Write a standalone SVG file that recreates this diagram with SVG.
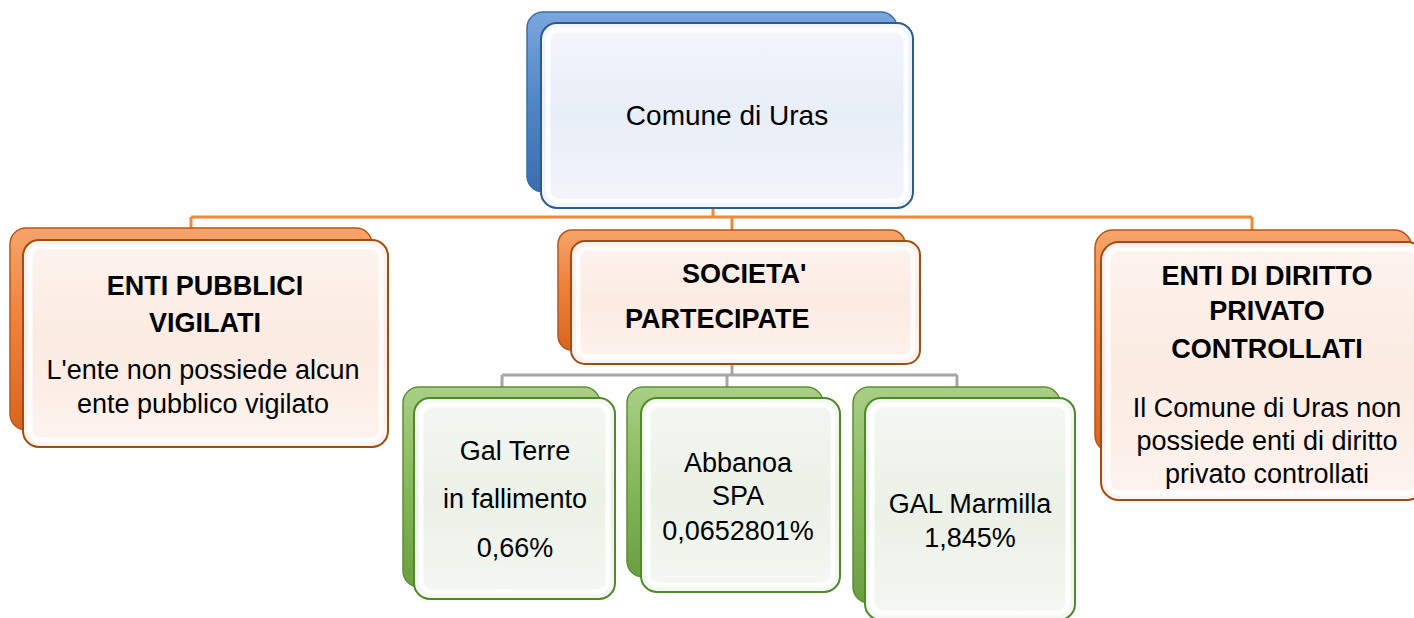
<svg xmlns="http://www.w3.org/2000/svg" width="1414" height="618" viewBox="0 0 1414 618">
<defs>
<linearGradient id="gBlue" x1="0" y1="0" x2="0" y2="1"><stop offset="0" stop-color="#7aa7dc"/><stop offset="0.5" stop-color="#4f86c6"/><stop offset="1" stop-color="#3a6fae"/></linearGradient>
<linearGradient id="gOrange" x1="0" y1="0" x2="0" y2="1"><stop offset="0" stop-color="#f5a46a"/><stop offset="0.5" stop-color="#ef7e36"/><stop offset="1" stop-color="#d9661e"/></linearGradient>
<linearGradient id="gGreen" x1="0" y1="0" x2="0" y2="1"><stop offset="0" stop-color="#a9cf86"/><stop offset="0.5" stop-color="#86b85a"/><stop offset="1" stop-color="#6a9e40"/></linearGradient>
<linearGradient id="fBlue" x1="0" y1="0" x2="0" y2="1"><stop offset="0" stop-color="#f3f6fb"/><stop offset="0.5" stop-color="#e8eef7"/><stop offset="1" stop-color="#f3f6fb"/></linearGradient>
<linearGradient id="fOrange" x1="0" y1="0" x2="0" y2="1"><stop offset="0" stop-color="#fdf3ee"/><stop offset="0.5" stop-color="#fbebe2"/><stop offset="1" stop-color="#fdf3ee"/></linearGradient>
<linearGradient id="fGreen" x1="0" y1="0" x2="0" y2="1"><stop offset="0" stop-color="#f4f7f2"/><stop offset="0.5" stop-color="#ebf1e7"/><stop offset="1" stop-color="#f4f7f2"/></linearGradient>
</defs>
<style>
.bb{fill:url(#gBlue);stroke:#3d6da3;stroke-width:1.5}
.bo{fill:url(#gOrange);stroke:#b8561a;stroke-width:1.5}
.bg{fill:url(#gGreen);stroke:#5d8f36;stroke-width:1.5}
.fb{fill:url(#fBlue);stroke:#2f5b8a;stroke-width:2}
.fo{fill:url(#fOrange);stroke:#a04d15;stroke-width:2}
.fg{fill:url(#fGreen);stroke:#4f8a2a;stroke-width:2}
.hl{fill:none;stroke:#ffffff;stroke-width:5;stroke-opacity:0.85}
.sh{fill:none;stroke:#c8c8c8;stroke-width:1;stroke-opacity:0.6}
.co{fill:none;stroke:#f0883a;stroke-width:3}
.cg{fill:none;stroke:#a6a6a6;stroke-width:3}
text{font-family:"Liberation Sans",Arial,sans-serif;fill:#000;text-anchor:middle}
.t{font-size:27px}
.tb{font-size:27px;font-weight:bold}
</style>

<g id="connectors">
<path class="co" d="M713,208 V217 M191,217 H1252 M191,217 V228 M732,217 V230 M1252,217 V231"/>
<path class="cg" d="M732,364 V375 M502,375 H957 M502,375 V387 M727,375 V387 M957,375 V387"/>
</g>

<g id="node-comune">
<rect class="bb" x="527" y="12" width="370" height="180" rx="16"/>
<rect class="fb" x="541" y="23" width="372" height="185" rx="16"/>
<rect class="hl" x="548" y="30" width="358" height="171" rx="11"/>
<text x="727" y="125" style="font-size:28px">Comune di Uras</text>
</g>

<g id="node-enti-pubblici">
<rect class="bo" x="10" y="228" width="362" height="202" rx="16"/>
<rect class="fo" x="23" y="240" width="365" height="207" rx="16"/>
<rect class="hl" x="30" y="247" width="351" height="193" rx="11"/>
<text class="tb" x="205" y="295">ENTI PUBBLICI</text>
<text class="tb" x="205" y="332">VIGILATI</text>
<text class="t" x="203" y="379">L'ente non possiede alcun</text>
<text class="t" x="203" y="413">ente pubblico vigilato</text>
</g>

<g id="node-societa">
<rect class="bo" x="558" y="230" width="347" height="120" rx="14"/>
<rect class="fo" x="571" y="241" width="349" height="123" rx="14"/>
<rect class="hl" x="578" y="248" width="335" height="109" rx="10"/>
<text class="tb" x="682" y="283" style="text-anchor:start">SOCIETA'</text>
<text class="tb" x="625" y="328" style="text-anchor:start">PARTECIPATE</text>
</g>

<g id="node-enti-privato">
<rect class="bo" x="1095" y="230" width="317" height="223" rx="18"/>
<rect class="fo" x="1101" y="242" width="324" height="258" rx="18"/>
<rect class="hl" x="1108" y="249" width="310" height="244" rx="12"/>
<text class="tb" x="1267" y="285">ENTI DI DIRITTO</text>
<text class="tb" x="1267" y="320">PRIVATO</text>
<text class="tb" x="1267" y="358">CONTROLLATI</text>
<text class="t" x="1267" y="417">Il Comune di Uras non</text>
<text class="t" x="1267" y="450">possiede enti di diritto</text>
<text class="t" x="1267" y="483">privato controllati</text>
</g>

<g id="node-gal-terre">
<rect class="bg" x="403" y="387" width="197" height="200" rx="16"/>
<rect class="fg" x="414" y="398" width="201" height="201" rx="16"/>
<rect class="hl" x="421" y="405" width="187" height="187" rx="11"/>
<text class="t" x="515" y="460">Gal Terre</text>
<text class="t" x="515" y="508">in fallimento</text>
<text class="t" x="515" y="557">0,66%</text>
</g>

<g id="node-abbanoa">
<rect class="bg" x="627" y="387" width="196" height="190" rx="16"/>
<rect class="fg" x="641" y="398" width="199" height="194" rx="16"/>
<rect class="hl" x="648" y="405" width="185" height="180" rx="11"/>
<text class="t" x="738" y="472">Abbanoa</text>
<text class="t" x="738" y="505">SPA</text>
<text class="t" x="738" y="540">0,0652801%</text>
</g>

<g id="node-gal-marmilla">
<rect class="bg" x="853" y="387" width="207" height="216" rx="16"/>
<rect class="fg" x="865" y="398" width="210" height="222" rx="16"/>
<rect class="hl" x="872" y="405" width="196" height="208" rx="11"/>
<text class="t" x="970" y="513">GAL Marmilla</text>
<text class="t" x="970" y="547">1,845%</text>
</g>
</svg>
